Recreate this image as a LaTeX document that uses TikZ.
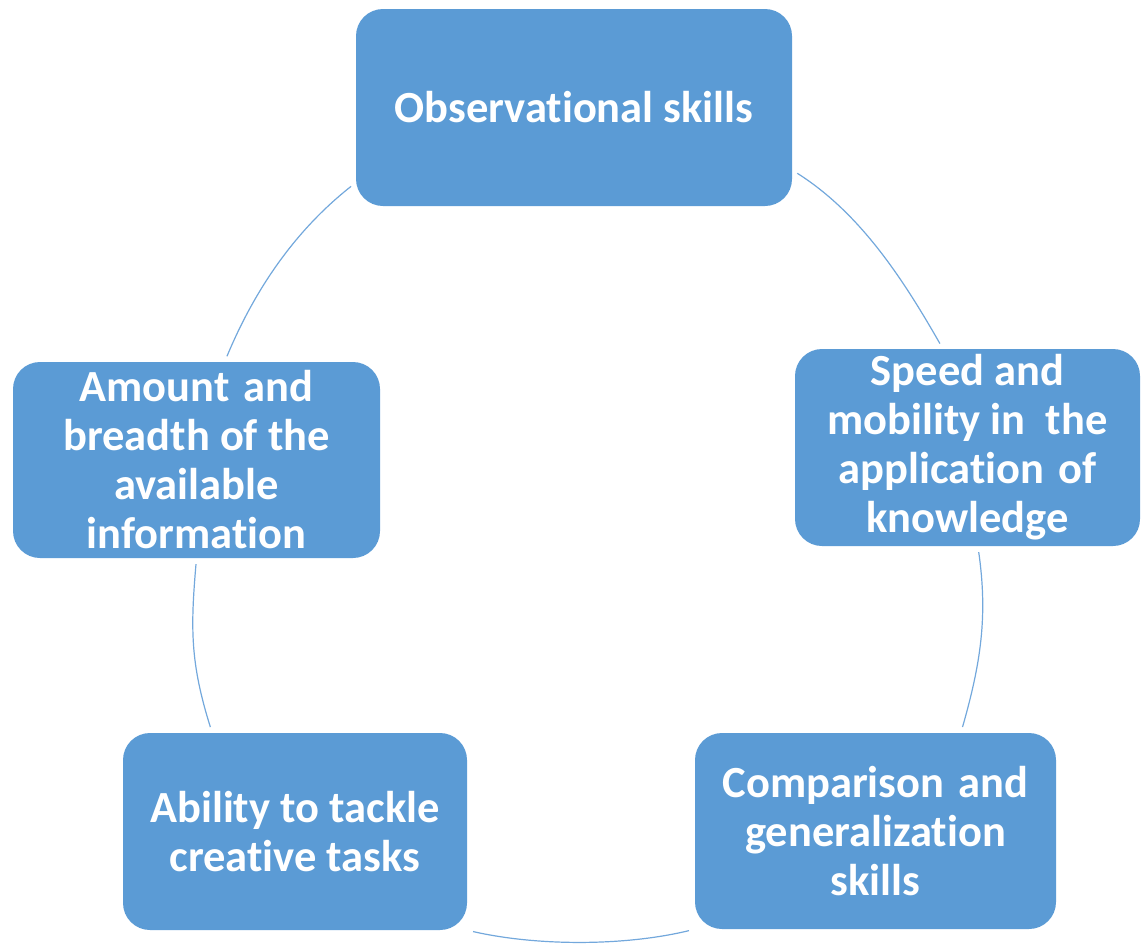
\documentclass[tikz,border=0pt]{standalone}
\usepackage{fontspec}
\setmainfont[Ligatures={NoCommon}]{Carlito}
\definecolor{boxblue}{RGB}{91,155,213}
\definecolor{arcblue}{RGB}{115,168,220}
\newcommand{\widesp}{\hspace{0.32em}}
\begin{document}
\begin{tikzpicture}[x=1pt,y=-1pt,
  skillbox/.style={rectangle, rounded corners=27pt, fill=boxblue, draw=none,
    text=white, align=center, inner sep=0pt,
    font=\fontsize{44.5}{49}\selectfont\bfseries},
  cyclearc/.style={draw=arcblue, line width=1.2pt, shorten <=6pt, shorten >=6pt}]
\useasboundingbox (0,0) rectangle (1142,943);
\node[skillbox, minimum width=436pt, minimum height=197pt] (obs) at (574,107.5) {Observational skills};
\node[skillbox, minimum width=345pt, minimum height=197pt] (speed) at (967.5,447.5) {Speed and\\mobility in~ the\\application\widesp of\\knowledge};
\node[skillbox, minimum width=361pt, minimum height=196pt] (comp) at (875.5,831) {Comparison\widesp and\\generalization\\skills};
\node[skillbox, minimum width=344pt, minimum height=197pt] (abil) at (295,831.5) {Ability to tackle\\creative tasks};
\node[skillbox, minimum width=367pt, minimum height=196pt] (amt) at (196.5,460) {Amount\widesp and\\breadth of the\\available\\information};
\draw[cyclearc] (obs.-16.7) .. controls +(68,43) and +(-40,-70) .. (speed.104);
\draw[cyclearc] (speed.-84.5) .. controls +(10,70) and +(20,-70) .. (comp.49.6);
\draw[cyclearc] (comp.south west) .. controls +(-70,17) and +(70,16) .. (abil.south east);
\draw[cyclearc] (abil.130.1) .. controls +(-22,-70) and +(-6,70) .. (amt.-90.3);
\draw[cyclearc] (amt.74.9) .. controls +(30,-72) and +(-61,48) .. (obs.199.1);
\end{tikzpicture}
\end{document}
